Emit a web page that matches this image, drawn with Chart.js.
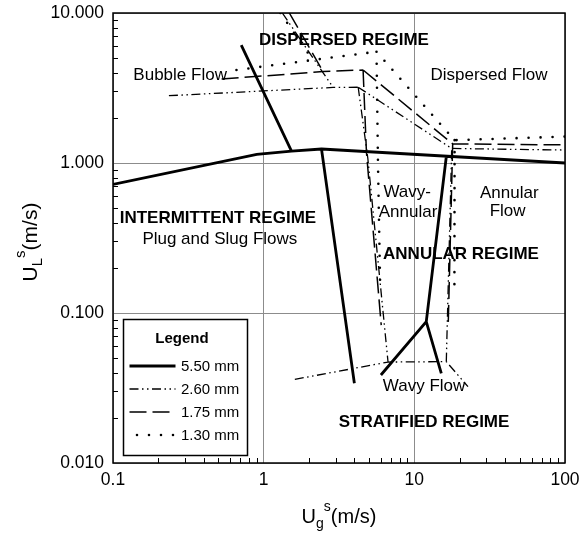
<!DOCTYPE html>
<html>
<head>
<meta charset="utf-8">
<script src="https://cdn.jsdelivr.net/npm/chart.js@4/dist/chart.umd.min.js"></script>
<style>
  body { margin: 0; background: #fff; }
</style>
</head>
<body>
<canvas id="flow-map" width="579" height="536"></canvas>
<script>
  // Flow regime transition lines, [Ug, UL] in m/s; null breaks a line
  var seriesLabels = ['5.50 mm', '2.60 mm', '1.75 mm', '1.30 mm'];
  var lines550 = [[0.1, 0.72], [0.9, 1.14], [1.53, 1.2], [2.42, 1.24], [100, 1.0], null,
    [0.71, 6.1], [1.53, 1.2], null,
    [2.42, 1.24], [4.0, 0.034], null,
    [16.3, 1.1], [12.0, 0.0875], [6.0, 0.0386], null,
    [12.0, 0.0875], [15.1, 0.0396]];
  var lines260 = [[0.235, 2.81], [2.89, 3.19], [4.24, 3.2], null,
    [1.33, 10], [2.89, 3.19], null,
    [4.24, 3.2], [17.7, 1.25], [100, 1.22], null,
    [4.24, 3.2], [4.91, 1.08], [6.69, 0.0471], null,
    [1.61, 0.0361], [6.69, 0.0471], [16.3, 0.0474], [22.7, 0.0323], null,
    [16.3, 0.0474], [17.7, 1.25]];
  var lines175 = [[0.526, 3.63], [2.48, 4.07], [4.57, 4.17], null,
    [1.48, 10], [2.48, 4.07], null,
    [4.57, 4.17], [17.97, 1.34], [100, 1.32], null,
    [4.57, 4.17], [4.81, 1.18], [6.03, 0.083], null,
    [17.97, 1.34], [16.8, 0.087]];
  var lines130 = [[0.66, 4.17], [2.12, 4.86], [5.61, 5.52], null,
    [1.29, 10], [2.12, 4.86], null,
    [5.61, 5.52], [18.5, 1.42], [100, 1.5], null,
    [5.61, 5.52], [5.74, 0.97], [5.94, 0.142], null,
    [18.5, 1.42], [18.45, 0.136]];

  var xTicks = [0.1, 1, 10, 100];
  var xTickLabels = ['0.1', '1', '10', '100'];
  var yTicks = [0.01, 0.1, 1, 10];
  var yTickLabels = ['0.010', '0.100', '1.000', '10.000'];

  // region names, anchored at [Ug, UL] (text centre, baseline)
  var regionText = ['DISPERSED REGIME', 'Bubble Flow', 'Dispersed Flow', 'INTERMITTENT REGIME',
    'Plug and Slug Flows', 'Wavy-', 'Annular', 'Annular', 'Flow', 'ANNULAR REGIME',
    'Wavy Flow', 'STRATIFIED REGIME'];
  var regionAt = [[3.41, 6.12], [0.279, 3.57], [31.3, 3.57], [0.497, 0.401],
    [0.512, 0.287], [8.97, 0.593], [9.08, 0.435], [42.7, 0.587], [41.6, 0.445], [20.4, 0.229],
    [11.6, 0.030], [11.6, 0.0175]];
  var regionBold = [true, false, false, true, false, false, false, false, false, true, false, true];

  var FONT = "'Liberation Sans', Arial, Helvetica, sans-serif";

  function toPoints(list) {
    return list.map(p => p ? { x: p[0], y: p[1] } : { x: null, y: null });
  }

  var styles = [
    { borderWidth: 2.8, borderDash: [], borderCapStyle: 'butt' },
    { borderWidth: 1.3, borderDash: [9, 3.5, 1.5, 3.5, 1.5, 3.5], borderCapStyle: 'butt' },
    { borderWidth: 1.5, borderDash: [17, 6], borderCapStyle: 'butt' },
    { borderWidth: 2.6, borderDash: [0, 12], borderCapStyle: 'round' }
  ];
  var datasets = [lines550, lines260, lines175, lines130].map((list, i) => Object.assign({
    label: seriesLabels[i],
    data: toPoints(list),
    showLine: true,
    spanGaps: false,
    borderColor: '#000',
    borderJoinStyle: 'miter',
    pointRadius: 0,
    fill: false
  }, styles[i]));

  function drawRich(ctx, parts, x, y) {
    // parts: [text, size, dy]; x is centre of the whole string
    var total = 0;
    parts.forEach(p => { ctx.font = p[1] + 'px ' + FONT; total += ctx.measureText(p[0]).width; });
    var cx = x - total / 2;
    parts.forEach(p => {
      ctx.font = p[1] + 'px ' + FONT;
      ctx.fillText(p[0], cx, y + p[2]);
      cx += ctx.measureText(p[0]).width;
    });
  }

  function noPad(s) {
    s.paddingLeft = 0; s.paddingRight = 0; s.paddingTop = 0; s.paddingBottom = 0;
  }

  var decor = {
    id: 'decor',
    afterDraw(chart) {
      var ctx = chart.ctx, a = chart.chartArea, xs = chart.scales.x, ys = chart.scales.y;
      ctx.save();
      ctx.strokeStyle = '#000';
      ctx.lineWidth = 1;
      ctx.beginPath();
      [0.1, 1, 10].forEach(d => {
        for (var m = 2; m < 10; m++) {
          var px = Math.round(xs.getPixelForValue(d * m)) + 0.5;
          ctx.moveTo(px, a.bottom); ctx.lineTo(px, a.bottom - 5);
        }
      });
      [0.01, 0.1, 1].forEach(d => {
        for (var m = 2; m < 10; m++) {
          var py = Math.round(ys.getPixelForValue(d * m)) + 0.5;
          ctx.moveTo(a.left, py); ctx.lineTo(a.left + 5, py);
        }
      });
      ctx.stroke();
      ctx.lineWidth = 1.5;
      ctx.strokeRect(a.left, a.top, a.right - a.left, a.bottom - a.top);

      // region labels
      ctx.fillStyle = '#000';
      ctx.textAlign = 'center';
      ctx.textBaseline = 'alphabetic';
      regionText.forEach((t, i) => {
        ctx.font = (regionBold[i] ? 'bold ' : '') + '17px ' + FONT;
        ctx.fillText(t, xs.getPixelForValue(regionAt[i][0]), ys.getPixelForValue(regionAt[i][1]));
      });

      // legend box
      var bx = a.left + 10.5, by = a.bottom - 143.5, bw = 124, bh = 136;
      ctx.fillStyle = '#fff';
      ctx.fillRect(bx, by, bw, bh);
      ctx.lineWidth = 1.5;
      ctx.setLineDash([]);
      ctx.strokeRect(bx, by, bw, bh);
      ctx.fillStyle = '#000';
      ctx.font = 'bold 15px ' + FONT;
      ctx.fillText('Legend', bx + 58.5, by + 23.5);
      ctx.textAlign = 'left';
      ctx.textBaseline = 'middle';
      chart.data.datasets.forEach((ds, i) => {
        var yy = by + 46.5 + i * 23;
        ctx.save();
        ctx.strokeStyle = ds.borderColor;
        ctx.lineWidth = ds.borderWidth;
        ctx.lineCap = ds.borderCapStyle;
        ctx.setLineDash(ds.borderDash);
        ctx.beginPath();
        ctx.moveTo(bx + (i === 3 ? 13.5 : 6), yy);
        ctx.lineTo(bx + 52, yy);
        ctx.stroke();
        ctx.restore();
        ctx.font = '15px ' + FONT;
        ctx.fillText(ds.label, bx + 57.5, yy + 1);
      });

      // axis titles
      ctx.textAlign = 'left';
      ctx.textBaseline = 'alphabetic';
      var title = [['U', 20, 0], ['g', 14, 5], ['s', 14, -12], ['(m/s)', 20, 0]];
      drawRich(ctx, title, (a.left + a.right) / 2, 523);
      ctx.translate(37, (a.top + a.bottom) / 2 + 4);
      ctx.rotate(-Math.PI / 2);
      drawRich(ctx, [['U', 21, 0], ['L', 15, 5], ['s', 15, -12], ['(m/s)', 21, 0]], 0, 0);
      ctx.restore();
    }
  };

  new Chart(document.getElementById('flow-map'), {
    type: 'scatter',
    data: { datasets: datasets },
    options: {
      responsive: false,
      animation: false,
      layout: { padding: { top: 13, right: 14, left: 0, bottom: 0 } },
      plugins: { legend: { display: false }, tooltip: { enabled: false } },
      scales: {
        x: {
          type: 'logarithmic', min: 0.1, max: 100,
          afterBuildTicks: s => { s.ticks = xTicks.map(v => ({ value: v })); },
          afterFit: s => { s.height = 73; noPad(s); },
          grid: { color: '#8c8c8c', lineWidth: 1, drawTicks: false },
          border: { display: false },
          ticks: {
            color: '#000', padding: 7, maxRotation: 0, autoSkip: false,
            font: { family: FONT, size: 17.5 },
            callback: (v, i) => xTickLabels[i]
          }
        },
        y: {
          type: 'logarithmic', min: 0.01, max: 10,
          afterBuildTicks: s => { s.ticks = yTicks.map(v => ({ value: v })); },
          afterFit: s => { s.width = 113; noPad(s); },
          grid: { color: '#8c8c8c', lineWidth: 1, drawTicks: false },
          border: { display: false },
          ticks: {
            color: '#000', padding: 9, autoSkip: false,
            font: { family: FONT, size: 17.5 },
            callback: (v, i) => yTickLabels[i]
          }
        }
      }
    },
    plugins: [decor]
  });
</script>
</body>
</html>
